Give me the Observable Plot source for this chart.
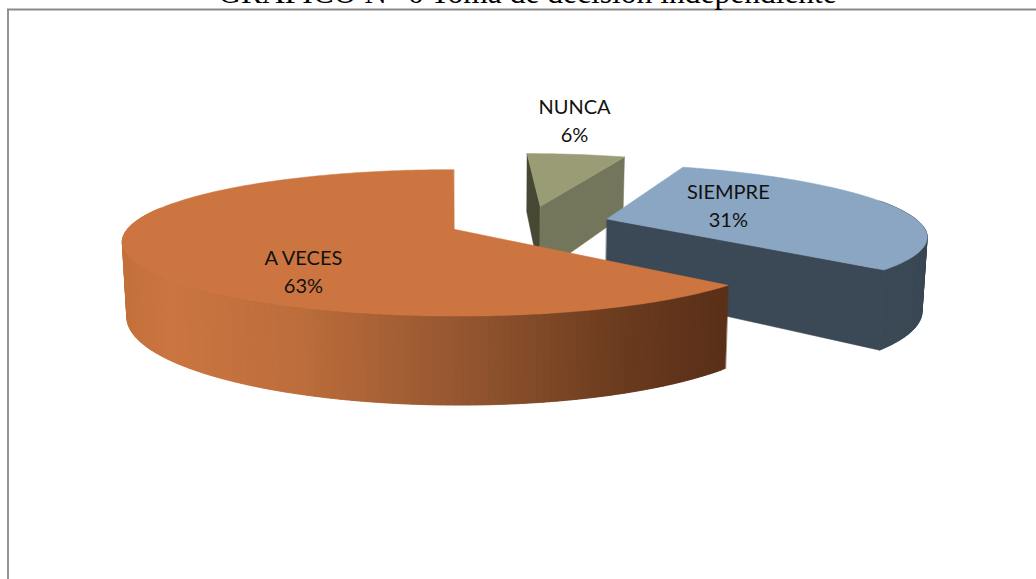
<!DOCTYPE html>
<html lang="es">
<head>
<meta charset="utf-8">
<title>Toma de decisión independiente</title>
<script src="https://cdn.jsdelivr.net/npm/d3@7"></script>
<script src="https://cdn.jsdelivr.net/npm/@observablehq/plot@0.6"></script>
<style>
  html, body { margin: 0; padding: 0; background: #fff; overflow: hidden; }
  svg { display: block; }
</style>
</head>
<body>
<div id="chart"></div>
<script>
// Answer shares, in the order they run clockwise round the pie
const categories = ["NUNCA", "SIEMPRE", "A VECES"];
const shares = [6, 31, 63];

// Colours of each slice: top face, the two cut faces (null where the slice hides them), rim
const topColors = ["#9A9C76", "#8AA6C3", "#CC7541"];
const cutColors = ["#73765A", "#3B4855", null];
const sideCutColors = ["#464833", null, null];
const rimColors = ["#5F6249", "#3B4855", null];

// Slightly different drawn radius per slice
const radii = [1, 0.98, 1.01];

// Where each label sits, relative to the slice's middle direction
const labelRadius = [1.87, 0.485, 0.677];
const labelTurn = [-3.35, -16.8, -28];

// Shading along the orange rim, left to right on the page
const rimShadeAt = [120, 170, 300, 480, 620, 720];
const rimShades = ["#C4713C", "#CB7541", "#BC6D3B", "#8F532E", "#6B3B1E", "#5A3019"];

const title = "GRAFICO N° 6 Toma de decisión independiente";

const width = 1036, height = 579;

// Perspective camera over the pie's plane; unit length is the pie radius
const camera = {vanishX: 435, horizon: -153, focalX: 1766, focalY: 2083,
                drop: 0.19, plumbX: 500, plumb: 0.012};
const pieCentre = {X: 0.294, Z: 5.555};
const explode = 0.256;
const firstSliceAngle = 0.5;

const rad = (deg) => (deg * Math.PI) / 180;
const project = (X, Z) => [camera.vanishX + (camera.focalX * X) / Z, camera.horizon + camera.focalY / Z];
// The same point on the underside of the slab
const lower = ([x, y]) => [x + camera.plumb * (camera.plumbX - x), y + camera.drop * (y - camera.horizon)];

// Slices start at the back of the pie and turn clockwise
const total = d3.sum(shares);
let running = 0;
const slices = categories.map((name, i) => {
  const start = firstSliceAngle + (running / total) * 360;
  running += shares[i];
  const end = firstSliceAngle + (running / total) * 360;
  const mid = (start + end) / 2;
  const X0 = pieCentre.X + explode * Math.sin(rad(mid));
  const Z0 = pieCentre.Z + explode * Math.cos(rad(mid));
  const at = (deg, r = radii[i]) => project(X0 + r * Math.sin(rad(deg)), Z0 + r * Math.cos(rad(deg)));
  return {i, name, share: shares[i], start, end, mid, at};
});

const rimShade = d3.scaleLinear().domain(rimShadeAt).range(rimShades).clamp(true);

const polygons = [];
let nextId = 0;
const addPolygon = (points, color) => {
  const id = nextId++;
  points.forEach(([x, y]) => polygons.push({id, x, y, color}));
};

for (const s of slices) {
  const apex = s.at(0, 0);
  const first = s.at(s.start);
  const last = s.at(s.end);
  // Cut faces behind everything else in the slice
  if (sideCutColors[s.i]) addPolygon([apex, first, lower(first), lower(apex)], sideCutColors[s.i]);
  if (cutColors[s.i]) addPolygon([apex, last, lower(last), lower(apex)], cutColors[s.i]);
  // Outer rim where it faces the viewer; each band runs under the next so no seams show
  for (let a = s.start; a < s.end; a += 1) {
    if (Math.cos(rad(a)) > 0.3) continue;
    const band = [a, a + 0.5, a + 1, a + 2].map((t) => s.at(Math.min(t, s.end)));
    const color = rimColors[s.i] ?? rimShade(band[1][0]);
    addPolygon([...band, ...band.map(lower).reverse()], color);
  }
  // Top face
  const arc = d3.range(s.start, s.end, 1).map((a) => s.at(a));
  addPolygon([apex, ...arc, last], topColors[s.i]);
}

const labels = slices.map((s) => {
  const [x, y] = s.at(s.mid + labelTurn[s.i], labelRadius[s.i]);
  return {x, y, text: `${s.name}\n${s.share}%`};
});

const chart = Plot.plot({
  width, height,
  margin: 0,
  x: {domain: [0, width], range: [0, width], axis: null},
  y: {domain: [0, height], range: [0, height], axis: null},
  color: {type: "identity"},
  marks: [
    // Chart frame, running off the page on the right and at the bottom
    Plot.ruleY([9], {x1: 7, x2: width, stroke: "#8A8A8A", strokeWidth: 1.8}),
    Plot.ruleX([7.5], {y1: 9, y2: height, stroke: "#8A8A8A", strokeWidth: 1.8}),
    Plot.text([title], {
      x: () => 527, y: () => 2, text: (d) => d, lineAnchor: "bottom",
      fontFamily: "Liberation Serif", fontSize: 31.5, fill: "#000"
    }),
    Plot.line(polygons, {
      x: "x", y: "y", z: "id", fill: "color", stroke: "color", strokeWidth: 0.5, curve: "linear-closed"
    }),
    Plot.text(labels, {
      x: "x", y: "y", text: "text", lineHeight: 1.4,
      fontFamily: "Lato", fontSize: 20, fill: "#111"
    })
  ]
});
document.getElementById("chart").append(chart);
</script>
</body>
</html>
